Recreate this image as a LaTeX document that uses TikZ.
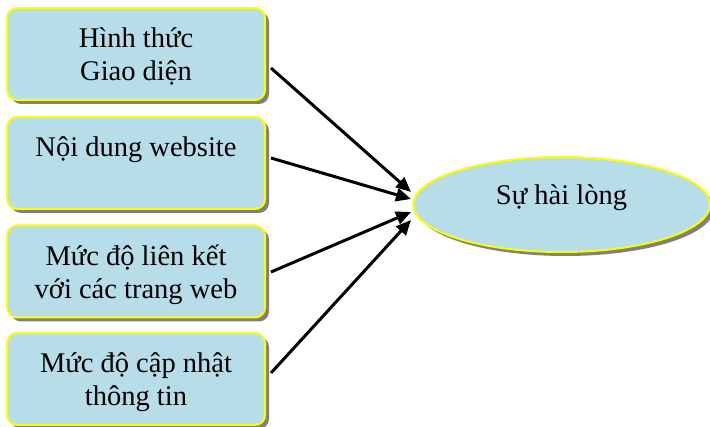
\documentclass[tikz,border=0pt]{standalone}
\usepackage{fontspec}
\setmainfont{Liberation Serif}
\usetikzlibrary{shadows,arrows.meta,shapes.geometric}
\definecolor{boxfill}{HTML}{B6DDE8}
\definecolor{boxline}{HTML}{FFFF00}
\definecolor{shadowgray}{HTML}{808080}
\tikzset{
  boxbase/.style={fill=boxfill, draw=boxline, line width=2pt,
    drop shadow={shadow xshift=4pt, shadow yshift=-4pt, fill=shadowgray, opacity=1}},
  factorbox/.style={boxbase, rectangle, rounded corners=10pt, minimum width=258pt,
    minimum height=92pt, inner sep=0pt, align=center,
    font=\fontsize{28.5}{33}\selectfont, text height=73pt, text depth=19pt},
  goalell/.style={boxbase, ellipse, minimum width=297pt, minimum height=95pt,
    inner sep=0pt, font=\fontsize{28.5}{33}\selectfont, text height=10pt, text depth=10pt},
  link/.style={line width=3pt, -{Triangle[length=15pt,width=13pt]}}
}
\begin{document}
\begin{tikzpicture}[x=1pt,y=-1pt]
\useasboundingbox (0,0) rectangle (710,427);
\node[factorbox] (b1) at (136,54) {Hình thức\\Giao diện};
\node[factorbox] (b2) at (136,163) {Nội dung website\\\phantom{Giao diện}};
\node[factorbox] (b3) at (136,271.5) {Mức độ liên kết\\với các trang web};
\node[factorbox] (b4) at (136,379) {Mức độ cập nhật\\thông tin};
\node[goalell] (goal) at (561.5,204.5) {Sự hài lòng};
\draw[link] ([xshift=5pt,yshift=-14pt]b1.east) -- ([xshift=-1pt,yshift=12.5pt]goal.west);
\draw[link] ([xshift=5pt,yshift=5pt]b2.east) -- ([xshift=-1pt,yshift=5.5pt]goal.west);
\draw[link] ([xshift=5pt,yshift=-0.5pt]b3.east) -- ([xshift=-1pt,yshift=-7.5pt]goal.west);
\draw[link] ([xshift=5pt,yshift=6pt]b4.east) -- ([xshift=-1pt,yshift=-15.5pt]goal.west);
\end{tikzpicture}
\end{document}
